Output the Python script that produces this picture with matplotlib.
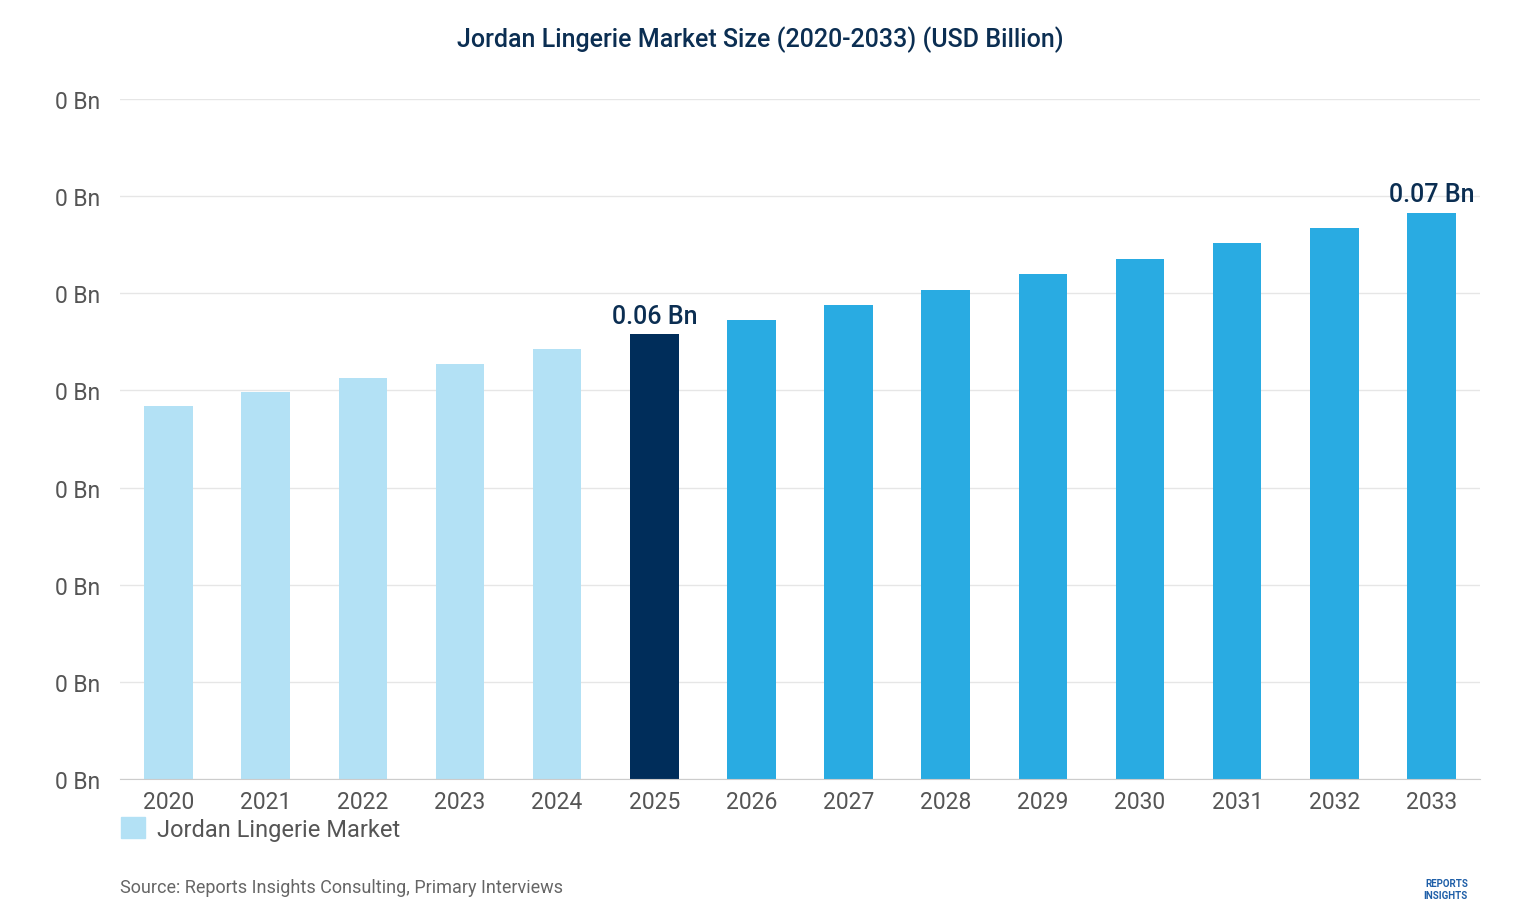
import matplotlib.pyplot as plt
from matplotlib.patches import Patch

years = [str(y) for y in range(2020, 2034)]
values = [0.0465, 0.0483, 0.0500, 0.0518, 0.0536, 0.0555, 0.0572, 0.0591,
          0.0610, 0.0630, 0.0649, 0.0668, 0.0687, 0.0706]
labels = {5: '0.06 Bn', 13: '0.07 Bn'}

colors = ['#b3e1f5'] * 5 + ['#002d5a'] + ['#29abe2'] * 8

plt.rcParams['font.family'] = ['Roboto', 'DejaVu Sans']
fig = plt.figure(figsize=(15.2, 9.2), dpi=100)
ax = fig.add_axes([120 / 1520, 140 / 920, 1360 / 1520, 680 / 920])

x = range(len(years))
ax.bar(x, values, width=0.5, color=colors, zorder=2)
for i, t in labels.items():
    ax.text(i, values[i] + 0.0008, t, ha='center', va='bottom', fontsize=18,
            fontweight='medium', color='#0b2e52')

ymax = 0.0848
ax.set_ylim(0, ymax)
ax.set_xlim(-0.5, len(years) - 0.5)
ticks = [ymax * k / 7 for k in range(8)]
ax.set_yticks(ticks)
ax.set_yticklabels(['0 Bn'] * 8)
ax.set_xticks(list(x))
ax.set_xticklabels(years)
ax.tick_params(axis='both', length=0, labelsize=16.5, labelcolor='#555555')
ax.tick_params(axis='y', pad=14)
ax.tick_params(axis='x', pad=8)
ax.grid(axis='y', color='#e6e6e6', linewidth=1, zorder=0)
for s in ['top', 'right', 'left']:
    ax.spines[s].set_visible(False)
ax.spines['bottom'].set_color('#cccccc')

fig.text(0.5, 1 - 40 / 920, 'Jordan Lingerie Market Size (2020-2033) (USD Billion)',
         ha='center', va='center', fontsize=18, fontweight='medium', color='#0b2e52')
fig.legend(handles=[Patch(color='#b3e1f5', label='Jordan Lingerie Market')],
           loc='center left', bbox_to_anchor=(100 / 1520, 1 - 830 / 920),
           frameon=False, fontsize=17, handlelength=1, handleheight=1,
           handletextpad=0.5, labelcolor='#555555')
fig.text(120 / 1520, 1 - 888 / 920, 'Source: Reports Insights Consulting, Primary Interviews',
         ha='left', va='center', fontsize=13, color='#666666')
fig.text(1468 / 1520, 1 - 890 / 920, 'REPORTS\nINSIGHTS', ha='right', va='center',
         fontsize=7, color='#1f5fa8', fontweight='bold')

fig.savefig('out.png', dpi=100)
